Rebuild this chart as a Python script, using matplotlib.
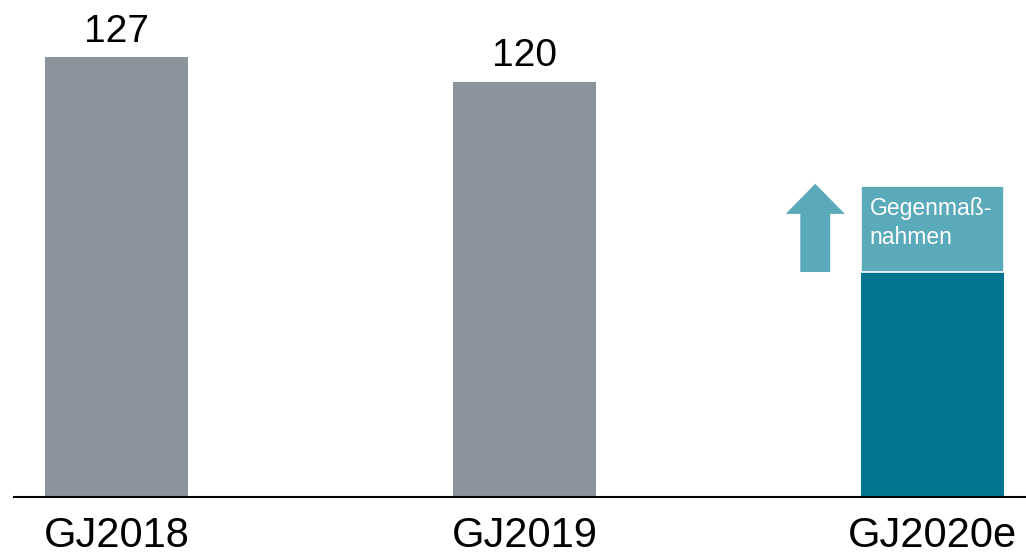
import matplotlib
matplotlib.use("Agg")
import matplotlib.pyplot as plt

plt.rcParams['font.family'] = ['Liberation Sans', 'DejaVu Sans']

categories = ["GJ2018", "GJ2019", "GJ2020e"]
actual_values = [127, 120, None]
base_2020 = 65
measures_2020 = 25
value_labels = ["127", "120", None]
measures_label = "Gegenmaß-\nnahmen"

gray = "#8B949C"
dark_teal = "#00758F"
light_teal = "#5AAAB9"

fig = plt.figure(figsize=(10.26, 5.57), dpi=100)
ax = fig.add_axes([14/1026, 60/557, 1 - 14/1026, 497/557])

x = list(range(len(categories)))
w = 0.35

for i, v in enumerate(actual_values):
    if v is not None:
        ax.bar(i, v, width=w, color=gray, linewidth=0)
        ax.annotate(value_labels[i], (i, v), xytext=(0, 5.5), textcoords="offset points",
                    ha="center", va="bottom", fontsize=28, color="black")

i2 = 2
ax.bar(i2, base_2020, width=w, color=dark_teal, linewidth=0)
ax.bar(i2, measures_2020, bottom=base_2020, width=w, color=light_teal,
       edgecolor="white", linewidth=1.2)
ax.text(i2 - w/2 + 0.021, base_2020 + measures_2020 - 3.3, measures_label,
        color="white", fontsize=16.5, ha="left", va="top", linespacing=1.33)

# arrow to the left of the 2020 bar
ax.arrow(i2 - 0.2875, base_2020, 0, measures_2020 + 0.5, width=0.0735,
         head_width=0.145, head_length=8.7, length_includes_head=True,
         color=light_teal, linewidth=0)

ax.set_xlim(-0.2512, 2.229)
ax.set_ylim(0, 143.6)
ax.set_xticks(x)
ax.set_xticklabels(categories, fontsize=30)
ax.tick_params(axis="x", length=0, pad=14)
ax.set_yticks([])
for s in ["top", "right", "left"]:
    ax.spines[s].set_visible(False)
ax.spines["bottom"].set_linewidth(1.5)
ax.spines["bottom"].set_color("black")
ax.patch.set_alpha(0)

fig.savefig("out.png", dpi=100)
